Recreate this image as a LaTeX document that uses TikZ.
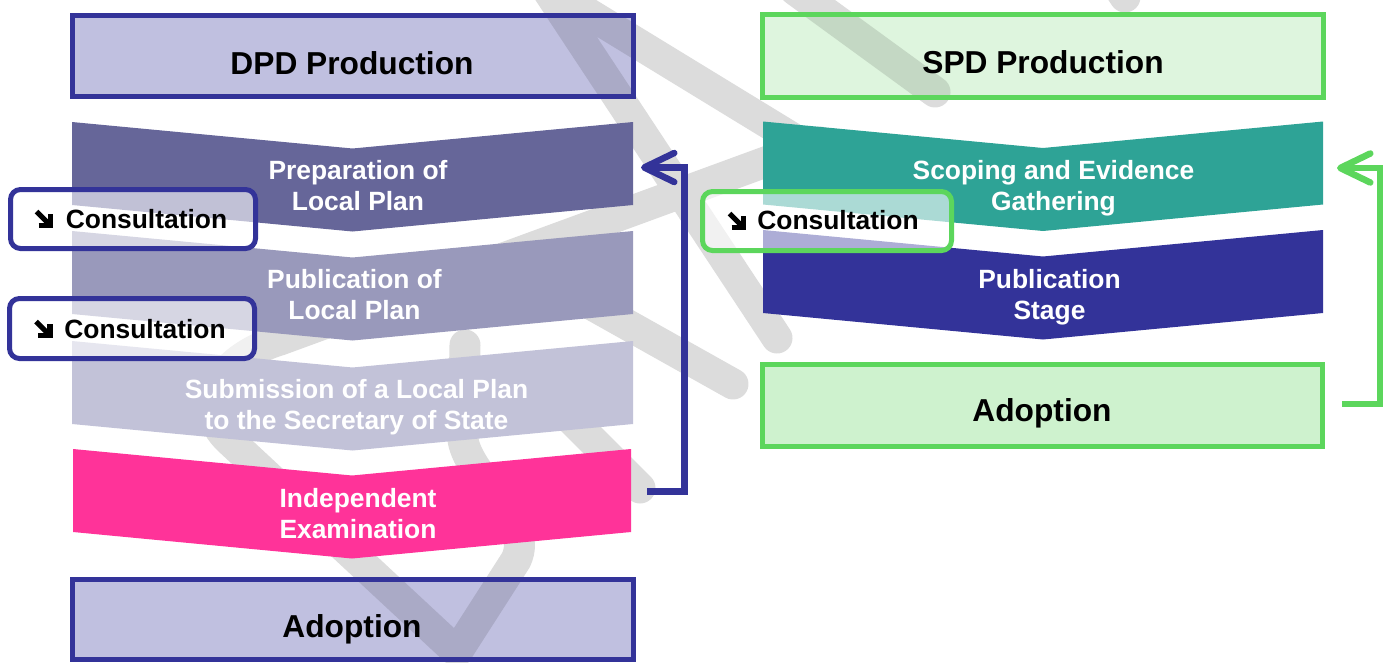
\documentclass[tikz,border=0pt]{standalone}
\usepackage{fontspec}
\setmainfont{Liberation Sans}
\usetikzlibrary{arrows.meta}
\definecolor{dpdblue}{HTML}{333399}
\definecolor{dpdfill}{HTML}{C0C0E0}
\definecolor{prepc}{HTML}{666699}
\definecolor{pubc}{HTML}{9999BB}
\definecolor{subc}{HTML}{C2C2D8}
\definecolor{pinkc}{HTML}{FF3399}
\definecolor{tealc}{HTML}{2EA396}
\definecolor{grn}{HTML}{5CD65C}
\definecolor{spdfill}{HTML}{DEF5DE}
\definecolor{spdadoptc}{HTML}{CEF2CE}
\definecolor{wmlight}{HTML}{DCDCDC}
\definecolor{wmdpd}{HTML}{AAAAC6}
\definecolor{wmspd}{HTML}{C4D8C4}
\newcommand\lstrut{\rule[-9pt]{0pt}{31pt}}
\newcommand\chevshape[4]{%
  \fill[#1] (#2,#4) -- ({(#2+#3)/2},{#4+26.5}) -- (#3,#4) -- (#3,{#4+83})
    -- ({(#2+#3)/2},{#4+109.5}) -- (#2,{#4+83}) -- cycle;}
\newcommand*\wmpath{%
  (777,338) -- (545.5,-12.8) -- (830,161)
  (795,-10) -- (935,92)
  (1100,-40) -- (1125,-3)
  (560,287) -- (733,384)
  (560,408) -- (640,488)
  (465,345) -- (463,440) .. controls (470,480) and (535,520) .. (516,560)
    -- (457,652) -- (229,440) .. controls (195,408) and (215,360) .. (280,340) -- (820,142)}
\begin{document}
\begin{tikzpicture}[x=1pt,y=-1pt,
  hbox/.style={inner sep=0pt, outer sep=0pt},
  hborder/.style={line width=5pt},
  htext/.style={font=\fontsize{31.7pt}{36pt}\selectfont\bfseries, inner sep=0pt, anchor=base},
  ctext/.style={font=\fontsize{26.4pt}{31pt}\selectfont\bfseries, text=white, align=center, inner sep=0pt},
  consbox/.style={draw, line width=5pt, rounded corners=10pt, fill=white, fill opacity=0.6, inner sep=0pt},
  constext/.style={font=\fontsize{26.4pt}{31pt}\selectfont\bfseries, inner sep=0pt, anchor=base},
  wmark/.style={line width=31pt, line cap=round, line join=round},
  loopar/.style={line width=6.5pt, -{Straight Barb[length=30pt,width=29pt,round]}},
  conicon/.pic={\draw[line width=5.2pt] (2.5,2.5) -- (14,14);
                \draw[line width=5.2pt] (4.5,16.5) -- (16.5,16.5) -- (16.5,4.5);}
]
\useasboundingbox (0,0) rectangle (1388,662);

% watermark on the white background
\draw[wmark, draw=wmlight] \wmpath;

% header and adoption boxes, with the watermark showing through
\node[hbox, fill=dpdfill, minimum width=561pt, minimum height=81pt] (dpdhead) at (353,56) {};
\begin{scope}
  \clip (dpdhead.south west) rectangle (dpdhead.north east);
  \draw[wmark, draw=wmdpd] \wmpath;
\end{scope}
\draw[hborder, dpdblue] (dpdhead.south west) rectangle (dpdhead.north east);

\node[hbox, fill=dpdfill, minimum width=561pt, minimum height=80pt] (dpdadopt) at (353,619.5) {};
\begin{scope}
  \clip (dpdadopt.south west) rectangle (dpdadopt.north east);
  \draw[wmark, draw=wmdpd] \wmpath;
\end{scope}
\draw[hborder, dpdblue] (dpdadopt.south west) rectangle (dpdadopt.north east);

\node[hbox, fill=spdfill, minimum width=561pt, minimum height=83pt] (spdhead) at (1043,56) {};
\begin{scope}
  \clip (spdhead.south west) rectangle (spdhead.north east);
  \draw[wmark, draw=wmspd] \wmpath;
\end{scope}
\draw[hborder, grn] (spdhead.south west) rectangle (spdhead.north east);

% chevrons
\chevshape{prepc}{72}{633}{122}
\chevshape{pubc}{72}{633}{231}
\chevshape{subc}{72}{633}{341}
\chevshape{pinkc}{73}{631}{449}
\chevshape{tealc}{763}{1323}{121.5}
\chevshape{dpdblue}{763}{1323}{230}

\node[hbox, draw=grn, line width=5pt, fill=spdadoptc, minimum width=560pt, minimum height=81.5pt] (spdadopt) at (1042.5,405.25) {};

% texts
\node[htext] (dpdheadtxt) at (352,74) {DPD Production};
\node[htext] (spdheadtxt) at (1043,73.5) {SPD Production};
\node[htext] (dpdadopttxt) at (352,637.5) {Adoption};
\node[htext] (spdadopttxt) at (1042,421.5) {Adoption};

\node[ctext] (preptxt) at (358,188.5) {\lstrut Preparation of\\\lstrut Local Plan};
\node[ctext] (pubtxt) at (354.5,297.5) {\lstrut Publication of\\\lstrut Local Plan};
\node[ctext] (subtxt) at (356.5,407.5) {\lstrut Submission of a Local Plan\\\lstrut to the Secretary of State};
\node[ctext] (indeptxt) at (358,516) {\lstrut Independent\\\lstrut Examination};
\node[ctext] (scoptxt) at (1053.5,188.5) {\lstrut Scoping and Evidence\\\lstrut Gathering};
\node[ctext] (pubstxt) at (1049.5,297.5) {\lstrut Publication\\\lstrut Stage};

% loop-back arrows
\coordinate (indepR) at (647,491.5);
\coordinate (prepR) at (641,167.5);
\draw[loopar, dpdblue] (indepR) -- ++(37.5,0) |- (prepR);
\coordinate (spdadR) at (1342,404);
\coordinate (scopR) at (1337,168);
\draw[loopar, grn] (spdadR) -- ++(38,0) |- (scopR);

% consultation boxes
\node[consbox, draw=dpdblue, minimum width=245pt, minimum height=59pt] (cons1) at (133,219) {};
\path (cons1.west) ++(26,-10) pic {conicon};
\node[constext] (cons1txt) at (146.5,228.5) {Consultation};

\node[consbox, draw=dpdblue, minimum width=245pt, minimum height=60pt] (cons2) at (132,328.5) {};
\path (cons2.west) ++(26.5,-9.5) pic {conicon};
\node[constext] (cons2txt) at (145,338) {Consultation};

\node[consbox, draw=grn, minimum width=249pt, minimum height=59pt] (cons3) at (827,221) {};
\path (cons3.west) ++(27,-10) pic {conicon};
\node[constext] (cons3txt) at (838,229.5) {Consultation};
\end{tikzpicture}
\end{document}
